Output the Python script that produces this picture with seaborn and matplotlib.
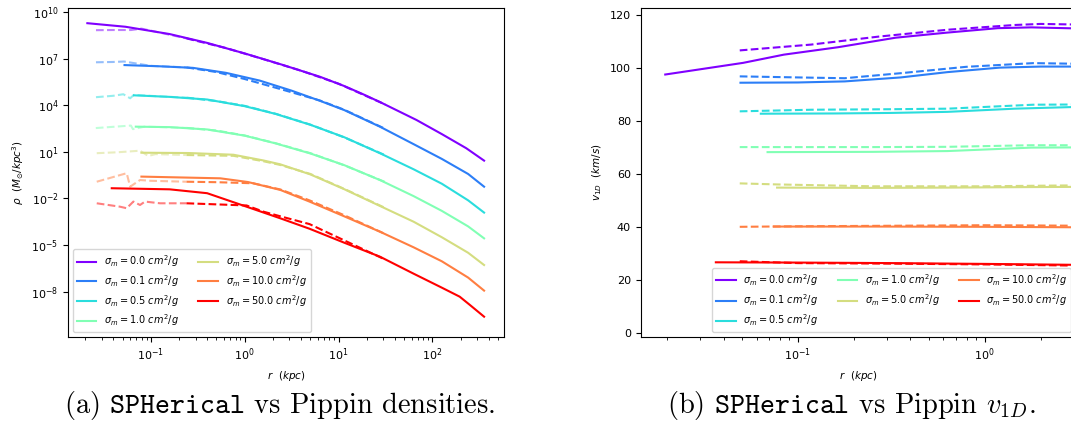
import numpy as np
import pandas as pd
import matplotlib
matplotlib.use("Agg")
import matplotlib.pyplot as plt
import seaborn as sns

# ---------------- data ----------------
sigmas = [0.0, 0.1, 0.5, 1.0, 5.0, 10.0, 50.0]
labels = [r"$\sigma_m = %.1f\ cm^2/g$" % s for s in sigmas]

# Left panel: log10 r [kpc] and log10 rho [Msun/kpc^3], SPHerical (solid)
sph_logr = [
    [-1.676, -1.27, -0.8, -0.4, 0.0, 0.4, 0.8, 1.06, 1.25, 1.44, 1.83, 2.1, 2.36, 2.55],
    [-1.28, -0.9, -0.55, -0.2, 0.16, 0.5, 0.8, 1.06, 1.44, 1.8, 2.1, 2.38, 2.55],
    [-1.18, -0.8, -0.4, 0.0, 0.33, 0.7, 1.06, 1.44, 1.8, 2.1, 2.38, 2.55],
    [-1.16, -0.8, -0.4, 0.0, 0.33, 0.7, 1.06, 1.44, 1.8, 2.1, 2.38, 2.55],
    [-1.10, -0.6, -0.12, 0.2, 0.38, 0.7, 1.06, 1.44, 1.8, 2.1, 2.38, 2.55],
    [-1.10, -0.26, 0.035, 0.38, 0.69, 1.06, 1.44, 1.8, 2.1, 2.38, 2.55],
    [-1.416, -0.8, -0.4, 0.02, 0.38, 0.69, 1.06, 1.44, 1.8, 2.1, 2.29, 2.40, 2.55],
]
sph_logrho = [
    [9.30, 9.07, 8.60, 8.03, 7.35, 6.62, 5.85, 5.25, 4.75, 4.22, 3.06, 2.15, 1.24, 0.44],
    [6.60, 6.52, 6.42, 6.10, 5.60, 4.95, 4.30, 3.70, 2.63, 1.50, 0.55, -0.42, -1.24],
    [4.65, 4.55, 4.38, 3.95, 3.45, 2.75, 1.95, 0.92, -0.12, -1.05, -2.12, -2.91],
    [2.63, 2.60, 2.45, 2.05, 1.55, 0.90, 0.15, -0.81, -1.85, -2.80, -3.80, -4.57],
    [0.95, 0.93, 0.82, 0.45, 0.20, -0.45, -1.40, -2.48, -3.50, -4.50, -5.50, -6.29],
    [-0.59, -0.70, -0.94, -1.45, -2.20, -3.15, -4.14, -5.15, -6.05, -7.10, -7.94],
    [-1.34, -1.41, -1.66, -2.53, -3.28, -3.95, -4.85, -5.75, -6.85, -7.75, -8.33, -8.87, -9.62],
]

# Pippin (dashed): unresolved inner part (faded) and resolved part
pip_in_logr = [
    [-1.584, -1.40, -1.21, -1.10, -0.62],
    [-1.584, -1.40, -1.285, -1.0, -0.62],
    [-1.584, -1.40, -1.293, -1.22, -1.18, -0.9, -0.62],
    [-1.586, -1.40, -1.212, -1.19, -1.066, -0.62],
    [-1.576, -1.35, -1.115, -1.027, -0.95, -0.62],
    [-1.576, -1.257, -1.22, -1.115, -1.0, -0.62],
    [-1.576, -1.328, -1.257, -1.186, -1.115, -1.062, -0.902, -0.62],
]
pip_in_logrho = [
    [8.85, 8.86, 8.86, 8.95, 8.32],
    [6.78, 6.80, 6.83, 6.55, 6.45],
    [4.53, 4.62, 4.72, 4.46, 4.68, 4.58, 4.50],
    [2.54, 2.62, 2.70, 2.47, 2.63, 2.55],
    [0.92, 0.98, 1.08, 0.74, 0.86, 0.80],
    [-0.92, -0.37, -1.24, -0.81, -0.86, -0.92],
    [-2.31, -2.53, -2.63, -2.20, -2.42, -2.20, -2.31, -2.31],
]
pip_out_logr = [
    [-0.62, -0.2, 0.2, 0.6, 1.0, 1.5],
    [-0.62, -0.3, 0.0, 0.4, 0.8, 1.06, 1.5],
    [-0.62, -0.3, 0.0, 0.33, 0.7, 1.06, 1.5],
    [-0.62, -0.3, 0.0, 0.33, 0.7, 1.06, 1.5],
    [-0.62, -0.12, 0.2, 0.38, 0.7, 1.06, 1.5],
    [-0.62, -0.3, 0.09, 0.38, 0.69, 1.06, 1.5],
    [-0.62, -0.3, 0.02, 0.2, 0.38, 0.69, 1.06, 1.5],
]
pip_out_logrho = [
    [8.32, 7.70, 6.98, 6.24, 5.40, 4.05],
    [6.45, 6.15, 5.70, 5.02, 4.32, 3.72, 2.48],
    [4.50, 4.28, 3.97, 3.46, 2.76, 1.94, 0.78],
    [2.55, 2.38, 2.06, 1.56, 0.92, 0.14, -0.95],
    [0.80, 0.75, 0.40, 0.16, -0.42, -1.38, -2.62],
    [-0.92, -0.95, -1.02, -1.42, -2.12, -3.08, -4.30],
    [-2.31, -2.38, -2.45, -2.85, -3.15, -3.65, -4.70, -5.95],
]

# Right panel: log10 r [kpc] and v_1D [km/s]
v_sph_logr = [
    [-1.711, -1.294, -1.076, -0.786, -0.477, -0.205, 0.07, 0.25, 0.55],
    [-1.308, -1.0, -0.75, -0.45, -0.2, 0.08, 0.3, 0.55],
    [-1.199, -0.8, -0.5, -0.2, 0.16, 0.46, 0.55],
    [-1.163, -0.6, -0.2, 0.25, 0.55],
    [-1.112, -0.6, -0.2, 0.25, 0.55],
    [-1.13, -0.6, 0.0, 0.55],
    [-1.44, -1.0, -0.5, 0.0, 0.55],
]
v_sph = [
    [97.7, 102.1, 105.2, 108.0, 111.6, 113.5, 115.2, 115.5, 115.0],
    [94.6, 94.7, 95.1, 96.6, 98.6, 100.3, 100.7, 100.7],
    [82.9, 83.0, 83.2, 83.6, 84.8, 85.4, 85.4],
    [68.4, 68.5, 68.8, 70.1, 70.2],
    [55.0, 54.9, 55.0, 55.2, 55.3],
    [40.3, 40.3, 40.2, 40.0],
    [26.8, 26.7, 26.5, 26.2, 25.8],
]
v_pip_logr = [
    [-1.312, -0.93, -0.57, -0.2, 0.16, 0.3, 0.55],
    [-1.312, -1.0, -0.75, -0.45, -0.1, 0.26, 0.55],
    [-1.312, -0.93, -0.5, -0.2, 0.26, 0.55],
    [-1.312, -0.6, -0.2, 0.25, 0.55],
    [-1.312, -1.112, -0.6, 0.0, 0.55],
    [-1.312, -1.0, -0.5, 0.0, 0.55],
    [-1.312, -1.0, -0.5, 0.0, 0.55],
]
v_pip = [
    [106.8, 109.0, 112.0, 114.6, 116.4, 116.8, 116.5],
    [97.0, 96.6, 96.3, 98.2, 100.6, 102.0, 101.7],
    [83.8, 84.4, 84.6, 84.8, 86.3, 86.4],
    [70.3, 70.3, 70.4, 71.0, 71.0],
    [56.6, 56.2, 55.5, 55.5, 55.9],
    [40.2, 40.4, 40.6, 40.8, 40.6],
    [27.2, 26.5, 26.3, 26.0, 25.5],
]

# ---------------- figure ----------------
W, H = 1071, 426
fig = plt.figure(figsize=(W / 100, H / 100), dpi=100)
colors = [plt.cm.rainbow(v) for v in np.linspace(0, 1, len(sigmas))]

def ax_rect(x0, y0, x1, y1):
    return [x0 / W, 1 - y1 / H, (x1 - x0) / W, (y1 - y0) / H]

axL = fig.add_axes(ax_rect(68.2, 8.3, 503.8, 337))
axR = fig.add_axes(ax_rect(640.6, 8.3, 1076.2, 337))

LW = 1.5
tick_fs = 8
lab_fs = 7.5
leg_fs = 7.0

# left: densities
for i, c in enumerate(colors):
    sns.lineplot(x=np.power(10.0, pip_in_logr[i]), y=np.power(10.0, pip_in_logrho[i]),
                 ax=axL, color=c, lw=LW, linestyle="--", alpha=0.5, sort=False,
                 estimator=None)
    sns.lineplot(x=np.power(10.0, pip_out_logr[i]), y=np.power(10.0, pip_out_logrho[i]),
                 ax=axL, color=c, lw=LW, linestyle="--", sort=False, estimator=None)
    sns.lineplot(x=np.power(10.0, sph_logr[i]), y=np.power(10.0, sph_logrho[i]),
                 ax=axL, color=c, lw=LW, label=labels[i], sort=False, estimator=None)
axL.set_xscale("log")
axL.set_yscale("log")
axL.set_xlim(10 ** -1.88, 10 ** 2.76)
axL.set_ylim(10 ** -10.93, 10 ** 10.26)
axL.set_xlabel(r"$r\ \ (kpc)$", fontsize=lab_fs)
axL.set_ylabel(r"$\rho\ \ (M_{\odot}/kpc^3)$", fontsize=lab_fs)
axL.tick_params(labelsize=tick_fs)
axL.legend(loc="lower left", ncol=2, fontsize=leg_fs, labelspacing=0.4)

# right: velocity dispersions
for i, c in enumerate(colors):
    sns.lineplot(x=np.power(10.0, v_pip_logr[i]), y=v_pip[i], ax=axR, color=c, lw=LW,
                 linestyle="--", sort=False, estimator=None)
    sns.lineplot(x=np.power(10.0, v_sph_logr[i]), y=v_sph[i], ax=axR, color=c, lw=LW,
                 label=labels[i], sort=False, estimator=None)
axR.set_xscale("log")
axR.set_xlim(10 ** -1.843, 10 ** 0.49)
axR.set_ylim(-1.4, 122.7)
axR.set_xlabel(r"$r\ \ (kpc)$", fontsize=lab_fs)
axR.set_ylabel(r"$v_{1D}\ \ (km/s)$", fontsize=lab_fs)
axR.tick_params(labelsize=tick_fs)
axR.legend(loc="lower right", ncol=3, fontsize=leg_fs, labelspacing=0.45)

# captions
cap_fs = 20.5
fig.text(280 / W, 1 - 405 / H, r"(a) $\mathtt{SPHerical}$ vs Pippin densities.",
         family="cmr10", math_fontfamily="cm", fontsize=cap_fs, ha="center", va="center")
fig.text(851 / W, 1 - 405 / H, r"(b) $\mathtt{SPHerical}$ vs Pippin $v_{1D}$.",
         family="cmr10", math_fontfamily="cm", fontsize=cap_fs, ha="center", va="center")

fig.savefig("out.png", dpi=100)
